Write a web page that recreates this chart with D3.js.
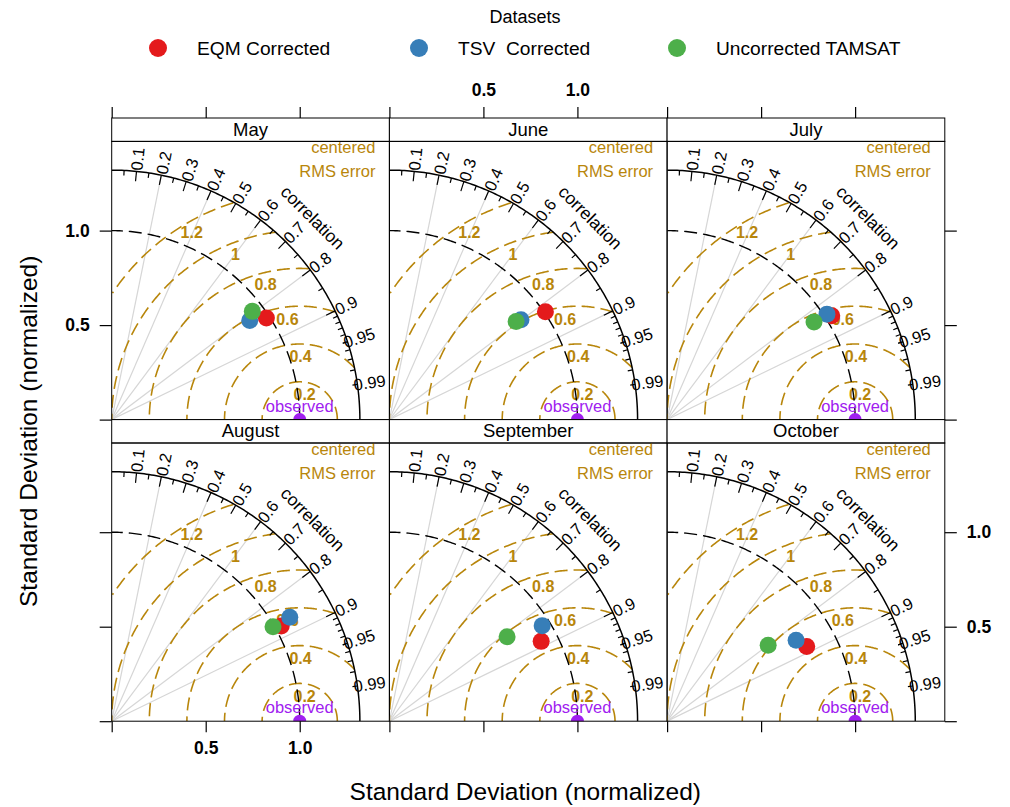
<html>
<head>
<script src="https://d3js.org/d3.v7.min.js"></script>
<style>
  body { margin: 0; background: #fff; }
  text { font-family: "Liberation Sans", Arial, Helvetica, sans-serif; }
</style>
</head>
<body>
<div id="chart"></div>
<script>
// panels and datasets
const months = ['May', 'June', 'July', 'August', 'September', 'October'];
const datasets = ['EQM Corrected', 'TSV  Corrected', 'Uncorrected TAMSAT'];
const colors = ['#E41A1C', '#377EB8', '#4DAF4A'];

// normalized standard deviation, one value per month
const sdEQM = [0.983, 1.007, 1.034, 1.033, 0.911, 0.841];
const sdTSV = [0.902, 0.877, 1.017, 1.095, 0.957, 0.809];
const sdUNC = [0.942, 0.851, 0.937, 0.993, 0.769, 0.671];
// correlation with observed, one value per month
const rEQM = [0.837, 0.824, 0.847, 0.873, 0.886, 0.883];
const rTSV = [0.814, 0.798, 0.836, 0.865, 0.849, 0.848];
const rUNC = [0.794, 0.792, 0.834, 0.864, 0.814, 0.801];

const sdSeries = [sdEQM, sdTSV, sdUNC];
const rSeries = [rEQM, rTSV, rUNC];

// diagram furniture
const maxsd = 1.32;
const sdObs = 1.0;
const corLines = [0.2, 0.4, 0.6, 0.8, 0.9];
const corLabels = [0.1, 0.2, 0.3, 0.4, 0.5, 0.6, 0.7, 0.8, 0.9, 0.95, 0.99];
const bigTicks = d3.range(1, 10).map(d => d / 10);
const medTicks = d3.range(0, 10).map(d => 0.05 + d / 10);
const smlTicks = d3.range(91, 100).map(d => d / 100);
const rmsLevels = [0.2, 0.4, 0.6, 0.8, 1, 1.2];
const sdTicks = [0, 0.5, 1.0];

const W = 1010, H = 807;
const left = 111.7, pw = 277.7, top0 = 118, sh = 23.4, ph = 278.2;
const gold = '#B8860B', purple = '#A020F0';

const x = d3.scaleLinear().domain([0, 1.477]).range([0, pw]);
const y = d3.scaleLinear().domain([0, 1.472]).range([ph, 0]);

const svg = d3.select('#chart').append('svg')
  .attr('width', W).attr('height', H);

const line = d3.line().x(d => x(d[0])).y(d => y(d[1]));
const deg = a => a * 180 / Math.PI;

months.forEach((m, i) => {
  const col = i % 3, row = Math.floor(i / 3);
  const px = left + col * pw;
  const sy = top0 + row * (sh + ph);
  const py = sy + sh;

  // strip
  svg.append('rect').attr('x', px).attr('y', sy).attr('width', pw).attr('height', sh)
    .attr('fill', '#fff').attr('stroke', '#000').attr('stroke-width', 1);
  svg.append('text').attr('x', px + pw / 2).attr('y', sy + 17.5)
    .attr('text-anchor', 'middle').attr('font-size', 18.5).text(m);

  svg.append('clipPath').attr('id', 'clip' + i)
    .append('rect').attr('width', pw).attr('height', ph);

  const g = svg.append('g').attr('transform', `translate(${px},${py})`)
    .attr('clip-path', `url(#clip${i})`);

  // correlation grid lines
  g.selectAll('.cl').data(corLines).enter().append('path')
    .attr('d', c => line([[0, 0], [maxsd * c, maxsd * Math.sqrt(1 - c * c)]]))
    .attr('stroke', '#d6d6d6').attr('stroke-width', 1.2).attr('fill', 'none');

  // RMS arcs around observed
  const thetas = d3.range(0, Math.PI + 0.001, 0.01);
  rmsLevels.forEach((gm, k) => {
    const pts = thetas.map(t => [sdObs + gm * Math.cos(t), gm * Math.sin(t)])
      .filter(p => p[0] >= 0 && p[0] * p[0] + p[1] * p[1] <= maxsd * maxsd);
    g.append('path').attr('d', line(pts))
      .attr('fill', 'none').attr('stroke', gold).attr('stroke-width', 1.6)
      .attr('stroke-dasharray', '13,6');
    const lp = Math.floor(45 + (k + 1) * 25 / 6);
    const a = (lp - 1) * 0.03;
    g.append('text')
      .attr('x', x(sdObs + gm * Math.cos(a)))
      .attr('y', y(gm * Math.sin(a)) + 18)
      .attr('text-anchor', 'middle').attr('font-size', 16).attr('font-weight', 'bold')
      .attr('fill', gold).text(gm);
  });

  // observed sd arc
  const arcPts = d3.range(0, Math.PI / 2 + 0.001, 0.01).map(t => [Math.cos(t), Math.sin(t)]);
  g.append('path').attr('d', line(arcPts.map(p => [p[0] * sdObs, p[1] * sdObs])))
    .attr('fill', 'none').attr('stroke', '#000').attr('stroke-width', 1.4)
    .attr('stroke-dasharray', '13,6');

  // outer arc
  g.append('path').attr('d', line(arcPts.map(p => [p[0] * maxsd, p[1] * maxsd])))
    .attr('fill', 'none').attr('stroke', '#000').attr('stroke-width', 1.5);

  const tick = (vals, len) => vals.forEach(c => {
    const s = Math.sqrt(1 - c * c);
    g.append('path').attr('d', line([[c * maxsd, s * maxsd], [c * len * maxsd, s * len * maxsd]]))
      .attr('stroke', '#000').attr('stroke-width', 1.2);
  });
  tick(bigTicks, 0.96);
  tick(medTicks, 0.98);
  tick(smlTicks, 0.98);

  // correlation labels
  corLabels.forEach(c => {
    const a = Math.acos(c);
    g.append('text')
      .attr('transform', `translate(${x(1.05 * maxsd * c)},${y(1.05 * maxsd * Math.sin(a))}) rotate(${-deg(a)})`)
      .attr('text-anchor', 'middle').attr('dy', '0.35em').attr('font-size', 16.5).text(c);
  });
  g.append('text')
    .attr('transform', `translate(${x(0.81 * maxsd)},${y(0.81 * maxsd)}) rotate(45)`)
    .attr('text-anchor', 'middle').attr('dy', '0.35em').attr('font-size', 17.5).text('correlation');

  g.append('text').attr('x', pw - 14).attr('y', 12).attr('text-anchor', 'end')
    .attr('font-size', 16.5).attr('fill', gold).text('centered');
  g.append('text').attr('x', pw - 14).attr('y', 36).attr('text-anchor', 'end')
    .attr('font-size', 16.5).attr('fill', gold).text('RMS error');

  // observed
  g.append('circle').attr('cx', x(sdObs)).attr('cy', y(0)).attr('r', 6.5).attr('fill', purple);
  g.append('text').attr('x', x(sdObs)).attr('y', y(0) - 8).attr('text-anchor', 'middle')
    .attr('font-size', 16.5).attr('fill', purple).text('observed');

  // dataset points
  datasets.forEach((ds, k) => {
    const sd = sdSeries[k][i], r = rSeries[k][i];
    g.append('circle').attr('cx', x(sd * r)).attr('cy', y(sd * Math.sqrt(1 - r * r)))
      .attr('r', 8.5).attr('fill', colors[k]);
  });

  // panel border
  svg.append('rect').attr('x', px).attr('y', py).attr('width', pw).attr('height', ph)
    .attr('fill', 'none').attr('stroke', '#000').attr('stroke-width', 1);
});

// axes
const fmt = show => d => (show && d !== 0) ? d3.format('.1f')(d) : '';
const styleAxis = sel => {
  sel.select('.domain').remove();
  sel.attr('font-size', null).attr('font-family', null);
  sel.selectAll('line').attr('stroke', '#000').attr('stroke-width', 1.2);
  sel.selectAll('text').attr('font-size', 17.5).attr('font-weight', 'bold').attr('fill', '#000');
};
const bottomY = top0 + 2 * (sh + ph);
for (let col = 0; col < 3; col++) {
  const px = left + col * pw;
  svg.append('g').attr('transform', `translate(${px},${top0})`)
    .call(d3.axisTop(x).tickValues(sdTicks).tickSize(11).tickPadding(11).tickFormat(fmt(col === 1)))
    .call(styleAxis);
  svg.append('g').attr('transform', `translate(${px},${bottomY})`)
    .call(d3.axisBottom(x).tickValues(sdTicks).tickSize(11).tickPadding(9).tickFormat(fmt(col === 0)))
    .call(styleAxis);
}
for (let row = 0; row < 2; row++) {
  const py = top0 + row * (sh + ph) + sh;
  svg.append('g').attr('transform', `translate(${left},${py})`)
    .call(d3.axisLeft(y).tickValues(sdTicks).tickSize(12).tickPadding(10).tickFormat(fmt(row === 0)))
    .call(styleAxis);
  svg.append('g').attr('transform', `translate(${left + 3 * pw},${py})`)
    .call(d3.axisRight(y).tickValues(sdTicks).tickSize(12).tickPadding(10).tickFormat(fmt(row === 1)))
    .call(styleAxis);
}

// axis titles
svg.append('text').attr('x', left + 1.5 * pw - 3).attr('y', 800).attr('text-anchor', 'middle')
  .attr('font-size', 24.5).text('Standard Deviation (normalized)');
svg.append('text').attr('transform', `translate(37,${(top0 + sh + bottomY) / 2}) rotate(-90)`)
  .attr('text-anchor', 'middle').attr('font-size', 24.5).text('Standard Deviation (normalized)');

// legend
svg.append('text').attr('x', 525).attr('y', 23).attr('text-anchor', 'middle')
  .attr('font-size', 18).text('Datasets');
const legX = [158, 419, 677];
datasets.forEach((ds, k) => {
  svg.append('circle').attr('cx', legX[k]).attr('cy', 48).attr('r', 9).attr('fill', colors[k]);
  svg.append('text').attr('x', legX[k] + 39).attr('y', 54.5).attr('font-size', 19.2)
    .style('white-space', 'pre').text(ds);
});
</script>
</body>
</html>
